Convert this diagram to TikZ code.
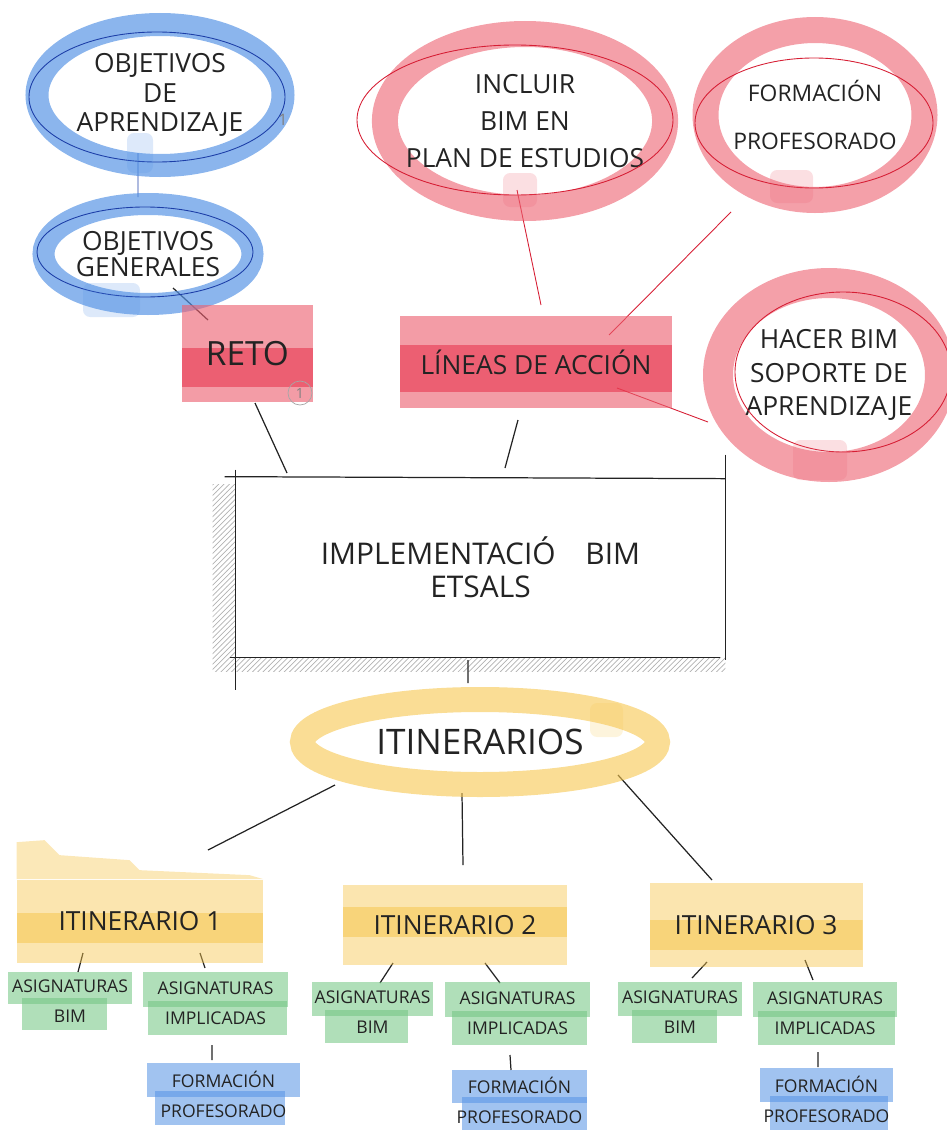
\documentclass[tikz,border=0pt]{standalone}
\usepackage{fontspec}
\setmainfont{Open Sans}
\usetikzlibrary{shapes.geometric, patterns, backgrounds}

\definecolor{ink}{RGB}{35,35,35}
\definecolor{bluemark}{RGB}{84,146,228}
\definecolor{bluepen}{RGB}{28,62,168}
\definecolor{redmark}{RGB}{236,96,112}
\definecolor{redband}{RGB}{230,45,70}
\definecolor{redpen}{RGB}{214,30,52}
\definecolor{yellowmark}{RGB}{246,198,78}
\definecolor{greenmark}{RGB}{112,196,128}

\begin{document}
\begin{tikzpicture}[
    ring/.style={ellipse, inner sep=-0.4cm, align=center, text=ink, draw opacity=0.68},
    bluering/.style={ring, draw=bluemark, line width=0.46cm, font=\fontsize{15}{17}\selectfont},
    redring/.style={ring, draw=redmark, draw opacity=0.6, line width=0.52cm},
    yellowring/.style={ring, draw=yellowmark, draw opacity=0.6, line width=0.5cm, font=\fontsize{20}{24}\selectfont},
    band/.style n args={3}{path picture={\fill[#1, fill opacity=0.55] ([yshift=#2]path picture bounding box.west) rectangle ([yshift=#3]path picture bounding box.east);}},
    split/.style n args={3}{path picture={
        \fill[#1, fill opacity=0.55] (path picture bounding box.north west) rectangle ([yshift=-0.06cm]path picture bounding box.east);
        \fill[#1, fill opacity=0.55] ([xshift=#2, yshift=0.06cm]path picture bounding box.west) rectangle ([xshift=-#3]path picture bounding box.south east);}},
    marker/.style={rectangle, inner sep=0pt, align=center, text=ink, text opacity=1},
    redbox/.style={marker, fill=redmark, fill opacity=0.62, font=\fontsize{15}{18}\selectfont},
    itbox/.style={marker, fill=yellowmark, fill opacity=0.45, font=\fontsize{15}{18}\selectfont},
    subject/.style={marker, font=\fontsize{10}{17}\selectfont},
    overlap/.style={fill=#1, fill opacity=0.2, rounded corners=4pt},
    pen/.style={ink, line width=0.7pt},
    bluelink/.style={bluepen, line width=0.5pt},
    redlink/.style={redpen, line width=0.5pt},
    hatch/.style={pattern=north east lines, pattern color=gray!60}
]
\useasboundingbox (0,0) rectangle (18.94,-22.6);

% objetivos
\node[bluering, minimum width=4.92cm, minimum height=2.82cm] (aprend) at (3.2,-1.9) {OBJETIVOS\\DE\\APRENDIZAJE};
\node[bluering, line width=0.44cm, minimum width=4.18cm, minimum height=2cm, font=\fontsize{15}{15}\selectfont] (generales) at (2.96,-5.08) {OBJETIVOS\\GENERALES};
\node[redbox, minimum width=2.62cm, minimum height=1.94cm, band={redband}{0.11cm}{-0.67cm}, font=\fontsize{19}{20}\selectfont] (reto) at (4.95,-7.07) {RETO};

% lineas de accion
\node[redring, minimum width=5.56cm, minimum height=3.48cm, font=\fontsize{15}{21}\selectfont] (incluir) at (10.5,-2.42) {INCLUIR\\BIM EN\\PLAN DE ESTUDIOS};
\node[redring, minimum width=4.38cm, minimum height=3.4cm, font=\fontsize{13}{27}\selectfont] (formacion) at (16.3,-2.3) {FORMACIÓN\\PROFESORADO};
\node[redring, line width=0.6cm, minimum width=4.44cm, minimum height=3.68cm, font=\fontsize{15}{19}\selectfont] (hacer) at (16.58,-7.5) {HACER BIM\\SOPORTE DE\\APRENDIZAJE};
\node[redbox, minimum width=5.44cm, minimum height=1.84cm, band={redband}{0.34cm}{-0.6cm}] (lineas) at (10.72,-7.24) {LÍNEAS DE ACCIÓN};

% centro
\node[rectangle, fill=white, minimum width=9.78cm, minimum height=3.6cm, align=center, text=ink, font=\fontsize{17}{19}\selectfont] (implementacion) at (9.61,-11.34) {IMPLEMENTACIÓ\quad BIM\\ETSALS};
\node[yellowring, minimum width=7.1cm, minimum height=1.7cm] (itinerarios) at (9.6,-14.84) {ITINERARIOS};

% itinerarios
\node[itbox, minimum width=4.92cm, minimum height=1.66cm, band={yellowmark}{0.16cm}{-0.44cm}] (it1) at (2.8,-18.42) {ITINERARIO 1};
\node[itbox, minimum width=4.48cm, minimum height=1.6cm, band={yellowmark}{0.36cm}{-0.24cm}] (it2) at (9.1,-18.5) {ITINERARIO 2};
\node[itbox, minimum width=4.26cm, minimum height=1.68cm, band={yellowmark}{0.1cm}{-0.5cm}] (it3) at (15.12,-18.5) {ITINERARIO 3};

\node[subject, minimum width=2.48cm, minimum height=1.16cm, split={greenmark}{0.28cm}{0.5cm}] (bim1) at (1.4,-20.02) {ASIGNATURAS\\BIM};
\node[subject, minimum width=2.9cm, minimum height=1.26cm, split={greenmark}{0.1cm}{0.02cm}] (impl1) at (4.31,-20.07) {ASIGNATURAS\\IMPLICADAS};
\node[subject, minimum width=3.06cm, minimum height=1.24cm, split={bluemark}{0.16cm}{0.3cm}] (form1) at (4.47,-21.88) {FORMACIÓN\\PROFESORADO};

\node[subject, minimum width=2.42cm, minimum height=1.22cm, split={greenmark}{0.26cm}{0.5cm}] (bim2) at (7.45,-20.25) {ASIGNATURAS\\BIM};
\node[subject, minimum width=2.9cm, minimum height=1.26cm, split={greenmark}{0.14cm}{0.06cm}] (impl2) at (10.35,-20.27) {ASIGNATURAS\\IMPLICADAS};
\node[subject, minimum width=2.7cm, minimum height=1.2cm, split={bluemark}{0.2cm}{0cm}] (form2) at (10.39,-22.0) {FORMACIÓN\\PROFESORADO};

\node[subject, minimum width=2.48cm, minimum height=1.22cm, split={greenmark}{0.28cm}{0.5cm}] (bim3) at (13.6,-20.25) {ASIGNATURAS\\BIM};
\node[subject, minimum width=2.88cm, minimum height=1.26cm, split={greenmark}{0.1cm}{0.05cm}] (impl3) at (16.5,-20.27) {ASIGNATURAS\\IMPLICADAS};
\node[subject, minimum width=2.66cm, minimum height=1.24cm, split={bluemark}{0.2cm}{0.1cm}] (form3) at (16.53,-21.98) {FORMACIÓN\\PROFESORADO};

% little marks
\node[text=gray, font=\fontsize{9}{9}\selectfont] (marca) at (5.66,-2.4) {1};
\node[circle, draw=gray!70, text=gray, inner sep=1pt, minimum size=0.48cm, font=\fontsize{8}{8}\selectfont] (uno) at (6.0,-7.86) {1};

% pen outlines over the rings
\draw[bluelink] ([shift={(-0.06,-0.04)}]aprend.center) ellipse (2.56 and 1.3);
\draw[bluelink] ([shift={(-0.06,0.04)}]generales.center) ellipse (2.16 and 0.9);
\draw[redlink] ([shift={(-0.2,0.02)}]incluir.center) ellipse (3.16 and 1.5);
\draw[redlink] ([shift={(-0.02,-0.16)}]formacion.center) ellipse (2.38 and 1.3);
\draw[redlink] ([shift={(0.28,0.06)}]hacer.center) ellipse (2.16 and 1.6);

% where the marker stroke overlaps itself
\fill[overlap=bluemark] ([shift={(-0.66,-0.76)}]aprend.center) rectangle ([shift={(-0.14,-1.56)}]aprend.center);
\fill[overlap=bluemark] ([shift={(-1.3,-0.58)}]generales.center) rectangle ([shift={(-0.16,-1.26)}]generales.center);
\fill[overlap=redmark] ([shift={(-0.44,-1.04)}]incluir.center) rectangle ([shift={(0.24,-1.72)}]incluir.center);
\fill[overlap=redmark] ([shift={(-0.9,-1.1)}]formacion.center) rectangle ([shift={(-0.04,-1.76)}]formacion.center);
\fill[overlap=redmark] ([shift={(-0.72,-1.3)}]hacer.center) rectangle ([shift={(0.36,-2.1)}]hacer.center);
\fill[overlap=yellowmark] ([shift={(2.2,0.78)}]itinerarios.center) rectangle ([shift={(2.86,0.1)}]itinerarios.center);

% top of the first itinerary stroke
\fill[yellowmark, fill opacity=0.4] (it1.north west) -- ++(0,0.74) -- ++(0.56,0.04) -- ++(0.3,-0.3) -- ++(1.4,-0.1) -- ++(0.2,-0.2) -- ++(2.2,-0.1) -- (it1.north east) -- cycle;

% hand drawn frame
\draw[pen] ([xshift=-0.22cm]implementacion.north west) -- ([yshift=-0.04cm]implementacion.north east);
\draw[pen] ([yshift=0.14cm]implementacion.north west) -- ([yshift=-0.66cm]implementacion.south west);
\draw[pen] ([xshift=-0.12cm]implementacion.south west) -- ([xshift=-0.1cm]implementacion.south east);
\draw[pen] ([yshift=0.44cm]implementacion.north east) -- ([yshift=-0.06cm]implementacion.south east);

\begin{scope}[on background layer]
\fill[hatch] ([xshift=-0.46cm,yshift=-0.16cm]implementacion.north west) rectangle ([yshift=-0.28cm]implementacion.south east);

\draw[bluelink] ([shift={(-0.44,-1.16)}]aprend.center) -- ([shift={(-0.2,1.14)}]generales.center);
\draw[pen] ([shift={(0.5,-0.68)}]generales.center) -- ([shift={(-0.79,0.67)}]reto.center);
\draw[pen] ([shift={(0.15,-0.99)}]reto.center) -- ([shift={(-3.87,1.88)}]implementacion.center);
\draw[pen] ([shift={(-0.36,-1.16)}]lineas.center) -- ([shift={(0.49,1.98)}]implementacion.center);
\draw[redlink] ([shift={(-0.16,-1.38)}]incluir.center) -- ([shift={(0.1,1.14)}]lineas.center);
\draw[redlink] ([shift={(-1.68,-1.94)}]formacion.center) -- ([shift={(1.46,0.54)}]lineas.center);
\draw[redlink] ([shift={(1.62,-0.52)}]lineas.center) -- ([shift={(-2.42,-0.94)}]hacer.center);

\draw[pen] ([shift={(-0.25,-1.86)}]implementacion.center) -- ([shift={(-0.24,1.18)}]itinerarios.center);
\draw[pen] ([shift={(-2.9,-0.86)}]itinerarios.center) -- ([shift={(1.36,1.42)}]it1.center);
\draw[pen] ([shift={(-0.36,-1.02)}]itinerarios.center) -- ([shift={(0.16,1.2)}]it2.center);
\draw[pen] ([shift={(2.76,-0.66)}]itinerarios.center) -- ([shift={(-0.88,0.9)}]it3.center);

\draw[pen] ([shift={(-1.14,-0.64)}]it1.center) -- ([shift={(0.16,0.58)}]bim1.center);
\draw[pen] ([shift={(1.2,-0.64)}]it1.center) -- ([shift={(-0.21,0.71)}]impl1.center);
\draw[pen] ([shift={(-0.07,-0.83)}]impl1.center) -- ([shift={(-0.23,0.68)}]form1.center);
\draw[pen] ([shift={(-1.24,-0.76)}]it2.center) -- ([shift={(0.15,0.59)}]bim2.center);
\draw[pen] ([shift={(0.6,-0.76)}]it2.center) -- ([shift={(-0.35,0.61)}]impl2.center);
\draw[pen] ([shift={(-0.15,-0.83)}]impl2.center) -- ([shift={(-0.17,0.6)}]form2.center);
\draw[pen] ([shift={(-0.98,-0.74)}]it3.center) -- ([shift={(0.24,0.69)}]bim3.center);
\draw[pen] ([shift={(0.98,-0.7)}]it3.center) -- ([shift={(-0.24,0.67)}]impl3.center);
\draw[pen] ([shift={(-0.14,-0.77)}]impl3.center) -- ([shift={(-0.17,0.64)}]form3.center);
\end{scope}

\end{tikzpicture}
\end{document}
